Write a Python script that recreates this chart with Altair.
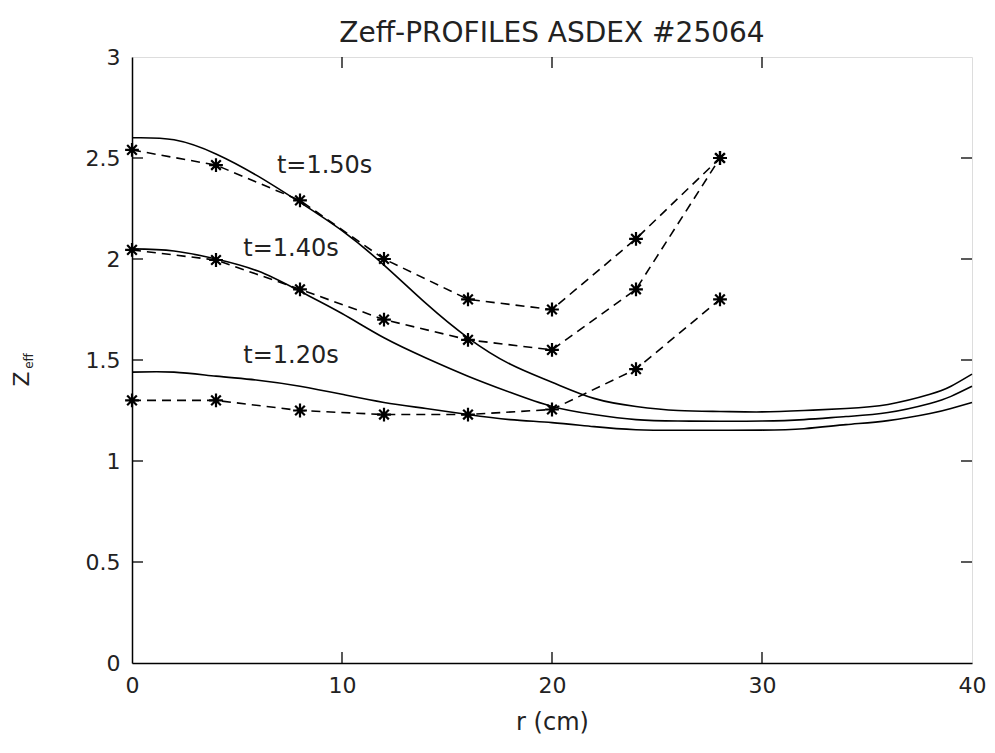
import altair as alt
import pandas as pd

# Solid (fitted) profiles
r_fit = [0, 2, 4, 6, 8, 10, 12, 14, 16, 18, 20, 22, 24, 26, 28, 30, 32, 34, 36, 38, 39, 40]
z_fit_150 = [2.60, 2.59, 2.52, 2.41, 2.28, 2.14, 1.97, 1.78, 1.61, 1.48, 1.39, 1.31, 1.27, 1.25, 1.245, 1.243, 1.25, 1.26, 1.28, 1.33, 1.37, 1.43]
z_fit_140 = [2.05, 2.04, 2.00, 1.94, 1.84, 1.73, 1.61, 1.51, 1.42, 1.34, 1.27, 1.23, 1.205, 1.198, 1.197, 1.198, 1.205, 1.22, 1.24, 1.285, 1.32, 1.37]
z_fit_120 = [1.44, 1.44, 1.42, 1.40, 1.37, 1.33, 1.29, 1.26, 1.23, 1.205, 1.19, 1.17, 1.155, 1.152, 1.152, 1.153, 1.16, 1.18, 1.20, 1.235, 1.26, 1.29]

# Measured points (dashed with stars)
r_meas = [0, 4, 8, 12, 16, 20, 24, 28]
z_meas_150 = [2.54, 2.465, 2.29, 2.00, 1.80, 1.75, 2.10, 2.50]
z_meas_140 = [2.045, 1.995, 1.85, 1.70, 1.60, 1.55, 1.85, 2.50]
z_meas_120 = [1.30, 1.30, 1.25, 1.23, 1.23, 1.255, 1.455, 1.80]

labels = ["t=1.50s", "t=1.40s", "t=1.20s"]
label_r = [6.9, 5.3, 5.3]
label_z = [2.46, 2.05, 1.52]

x_ticks = [10, 20, 30]
y_ticks = [0.5, 1, 1.5, 2, 2.5]

W, H = 840, 606
FONT = "DejaVu Sans"

fit = pd.concat([
    pd.DataFrame({"r": r_fit, "z": z_fit_150, "t": "1.50"}),
    pd.DataFrame({"r": r_fit, "z": z_fit_140, "t": "1.40"}),
    pd.DataFrame({"r": r_fit, "z": z_fit_120, "t": "1.20"}),
])
meas = pd.concat([
    pd.DataFrame({"r": r_meas, "z": z_meas_150, "t": "1.50"}),
    pd.DataFrame({"r": r_meas, "z": z_meas_140, "t": "1.40"}),
    pd.DataFrame({"r": r_meas, "z": z_meas_120, "t": "1.20"}),
])
lab = pd.DataFrame({"r": label_r, "z": label_z, "label": labels})
xt = pd.DataFrame({"v": x_ticks})
yt = pd.DataFrame({"v": y_ticks})

xscale = alt.Scale(domain=[0, 40], nice=False, zero=False)
yscale = alt.Scale(domain=[0, 3], nice=False, zero=False)

xaxis = alt.Axis(values=[0, 10, 20, 30, 40], format="d", title="r (cm)",
                 labelFontSize=22, titleFontSize=24, labelPadding=12, titlePadding=14,
                 labelFont=FONT, titleFont=FONT, titleFontWeight="normal", labelFlush=False,
                 ticks=False, grid=False, domainColor="black", domainWidth=1.5,
                 labelColor="#222", titleColor="#222")
yaxis = alt.Axis(values=[0, 0.5, 1, 1.5, 2, 2.5, 3], format="~g", title=None,
                 labelFontSize=22, labelPadding=12, labelFont=FONT, labelFlush=False,
                 ticks=False, grid=False, domainColor="black", domainWidth=1.5,
                 labelColor="#222")

lines = alt.Chart(fit).mark_line(color="black", strokeWidth=1.6, interpolate="natural").encode(
    x=alt.X("r:Q", scale=xscale, axis=xaxis),
    y=alt.Y("z:Q", scale=yscale, axis=yaxis),
    detail="t:N",
)

dashed = alt.Chart(meas).mark_line(color="black", strokeWidth=1.6, strokeDash=[9, 6]).encode(
    x=alt.X("r:Q", scale=xscale),
    y=alt.Y("z:Q", scale=yscale),
    detail="t:N",
)

star = "M-1,0L1,0M0,-1L0,1M-0.7,-0.7L0.7,0.7M-0.7,0.7L0.7,-0.7"
stars = alt.Chart(meas).mark_point(shape=star, filled=False, color="black", strokeWidth=2.2, size=190, opacity=1).encode(
    x=alt.X("r:Q", scale=xscale),
    y=alt.Y("z:Q", scale=yscale),
)

texts = alt.Chart(lab).mark_text(align="left", baseline="middle", fontSize=24, font=FONT, color="#222").encode(
    x=alt.X("r:Q", scale=xscale),
    y=alt.Y("z:Q", scale=yscale),
    text="label:N",
)

tick_bottom = alt.Chart(xt).mark_rule(color="black", strokeWidth=1.3).encode(
    x=alt.X("v:Q", scale=xscale), y=alt.value(H), y2=alt.value(H - 11))
tick_top = alt.Chart(xt).mark_rule(color="black", strokeWidth=1.3).encode(
    x=alt.X("v:Q", scale=xscale), y=alt.value(0), y2=alt.value(11))
tick_left = alt.Chart(yt).mark_rule(color="black", strokeWidth=1.3).encode(
    y=alt.Y("v:Q", scale=yscale), x=alt.value(0), x2=alt.value(11))
tick_right = alt.Chart(yt).mark_rule(color="black", strokeWidth=1.3).encode(
    y=alt.Y("v:Q", scale=yscale), x=alt.value(W), x2=alt.value(W - 11))

ytitle_z = alt.Chart(lab.head(1)).mark_text(angle=270, fontSize=22, font=FONT, color="#222",
                                             align="center", baseline="middle").encode(
    x=alt.value(-110), y=alt.value(322), text=alt.value("Z"))
ytitle_eff = alt.Chart(lab.head(1)).mark_text(angle=270, fontSize=12, font=FONT, color="#222",
                                               align="center", baseline="middle").encode(
    x=alt.value(-103), y=alt.value(304), text=alt.value("eff"))

chart = alt.layer(
    lines, dashed, stars, texts, tick_bottom, tick_top, tick_left, tick_right, ytitle_z, ytitle_eff
).properties(
    width=W, height=H,
    title=alt.TitleParams("Zeff-PROFILES ASDEX #25064", fontSize=28, font=FONT,
                          fontWeight="normal", color="#222", offset=-2),
    autosize=alt.AutoSizeParams(type="none"),
    padding={"left": 124, "top": 49, "right": 15, "bottom": 80},
).configure_view(
    stroke="black", strokeWidth=1.5
).configure(background="white")

chart.save("out.html", embed_options={"renderer": "svg", "actions": False})
